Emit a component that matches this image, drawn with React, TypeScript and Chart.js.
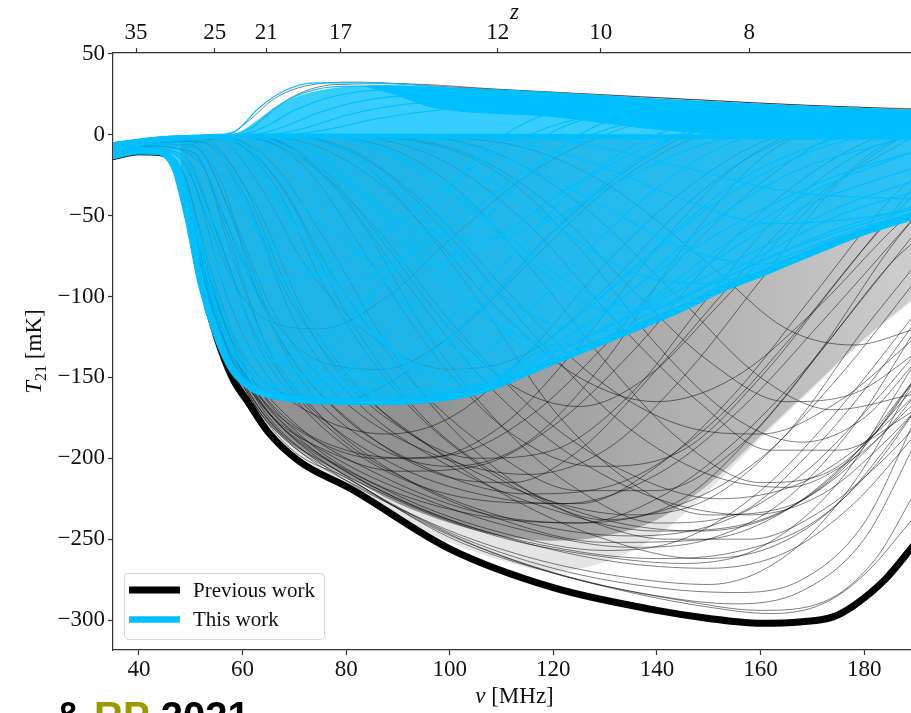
import React, { useEffect, useRef } from "react";
import { Chart, registerables } from "chart.js";

Chart.register(...registerables);

// ---------- axes ----------
const nuTicks = [40, 60, 80, 100, 120, 140, 160, 180];
const tTicks = [50, 0, -50, -100, -150, -200, -250, -300];
const zTicks = [35, 25, 21, 17, 12, 10, 8];
const NU_21CM = 1420.4; // MHz, rest frequency used to place the redshift ticks
const legendLabels = ["Previous work", "This work"];
const captionParts = ["& ", "RP", " 2021"];

// ---------- envelopes (thick lines) ----------
const previousWorkEnvelope = [[35,-13.5],[40,-10.5],[44,-11],[47,-20],[49.5,-50],[52,-90],[55,-125],[58,-150],[61,-165],[65,-184],[71,-202],[81,-219],[100,-256],[120,-280],[140,-294],[150,-299],[160,-302],[168,-301],[174,-298],[178,-291],[184,-275],[190,-252]];
const thisWorkEnvelope = [[35,-13],[40,-10],[44,-10.5],[47,-21],[49.5,-52],[52,-92],[55,-124],[58,-145],[62,-157],[67,-162],[75,-164.5],[85,-165],[95,-164],[102,-161],[108,-156],[117,-144],[127,-131],[137,-118],[145,-107],[152,-96],[160,-86],[172,-70],[180,-60],[190,-50]];

// ---------- density boundaries of the two bundles ----------
const previousWorkDenseTop = [[48,-2],[55,-0.6],[62,0],[100,0],[150,-0.5],[190,-1]];
const previousWorkDenseCore = [[48,-24],[52,-88],[56,-135],[59,-155],[62,-167],[66,-182],[72,-197],[80,-211],[90,-228],[100,-240],[110,-248],[120,-251],[130,-248],[140,-238],[150,-216],[160,-186],[170,-156],[180,-126],[190,-100]];
const previousWorkDenseHalo = [[48,-24],[52,-88],[56,-135],[60,-160],[65,-182],[72,-201],[80,-216],[90,-236],[100,-252],[110,-263],[120,-270],[130,-264],[140,-248],[150,-220],[160,-188],[170,-157],[180,-127],[190,-101]];
const thisWorkUpperEdge = [[35,-4.5],[40,-3],[45,-1.8],[50,-1],[56,-0.3],[59,1],[62,7],[66,16],[71,24],[78,29],[88,30.5],[100,29],[120,26],[140,22],[160,19],[190,15]];
const thisWorkSolidBand = [[84,29.5],[90,24],[95,18],[100,15],[120,11],[140,3],[158,-1],[175,-2.5],[190,-3]];
const thisWorkNullCurve = [[35,-6.5],[40,-4.5],[45,-2.5],[50,-1.5],[58,-0.8],[75,-0.8],[110,-1],[150,-1.3],[190,-1.6]];

// ---------- individual model curves: previous work ----------
const previousWorkCurves = [
  [[35,-13],[40,-10],[44,-11],[47,-21],[50,-52],[54,-100],[58,-140],[63,-170],[70,-196],[80,-212],[100,-249],[120,-271],[140,-285],[155,-290],[168,-282],[180,-250],[190,-190]],
  [[35,-13],[40,-10],[45,-13],[49,-38],[53,-88],[58,-134],[64,-170],[75,-203],[95,-238],[115,-261],[135,-274],[150,-278],[165,-260],[178,-215],[190,-150]],
  [[35,-12],[40,-9.5],[46,-15],[51,-60],[56,-112],[62,-152],[72,-188],[90,-223],[110,-246],[130,-257],[145,-250],[160,-220],[175,-170],[190,-110]],
  [[35,-12],[41,-9],[47,-18],[53,-80],[60,-138],[70,-178],[85,-208],[105,-233],[125,-240],[140,-225],[155,-190],[170,-140],[185,-80],[190,-65]],
  [[35,-11],[41,-8],[48,-12],[55,-60],[62,-120],[72,-165],[90,-205],[110,-225],[125,-228],[140,-205],[155,-160],[170,-100],[185,-40],[190,-25]],
  [[35,-11],[42,-7],[50,-6],[58,-50],[66,-110],[78,-160],[95,-195],[115,-210],[130,-195],[145,-150],[160,-90],[175,-30],[190,5]],
  [[35,-10],[42,-6],[50,-4],[56,-30],[62,-90],[70,-145],[82,-185],[100,-205],[115,-190],[130,-140],[145,-70],[160,-15],[175,8],[190,12]],
  [[35,-12],[41,-9],[47,-16],[52,-70],[58,-128],[66,-168],[80,-195],[95,-200],[110,-180],[125,-130],[140,-70],[155,-20],[170,5],[190,12]],
  [[35,-10],[42,-5],[52,-2],[60,-30],[68,-90],[78,-145],[90,-180],[105,-200],[120,-195],[135,-160],[150,-100],[165,-45],[180,-10],[190,0]],
  [[35,-9],[42,-4],[55,-1],[65,-15],[75,-60],[88,-130],[100,-180],[115,-220],[130,-238],[145,-225],[160,-180],[175,-120],[190,-60]],
  [[35,-8],[43,-3],[58,-0.5],[70,-10],[82,-50],[95,-120],[110,-180],[125,-220],[140,-240],[155,-235],[170,-195],[182,-150],[190,-115]],
  [[35,-8],[43,-3],[60,-0.5],[75,-8],[90,-40],[105,-100],[120,-170],[135,-215],[150,-235],[165,-230],[178,-200],[190,-150]],
  [[35,-6],[44,-2],[65,0],[85,-5],[100,-30],[115,-80],[130,-140],[145,-190],[160,-215],[172,-210],[182,-185],[190,-150]],
  [[35,-6],[45,-1.5],[70,0],[95,-5],[110,-25],[125,-70],[140,-130],[155,-175],[168,-190],[180,-175],[190,-140]],
  [[35,-6],[45,-1.5],[57,0],[61,8],[66,22],[72,30],[82,32.5],[100,29.5],[130,24.5],[160,19.5],[190,15.5]],
  [[35,-12],[41,-9],[48,-20],[54,-85],[60,-135],[68,-160],[78,-165],[90,-150],[105,-110],[120,-60],[135,-20],[150,5],[170,15],[190,14]],
  [[35,-12],[42,-8],[50,-25],[57,-100],[65,-150],[75,-175],[88,-185],[100,-175],[115,-135],[130,-80],[145,-35],[160,-5],[180,10],[190,12]],
  [[35,-11],[42,-7],[52,-18],[60,-80],[70,-140],[82,-180],[98,-210],[112,-215],[125,-195],[140,-145],[155,-90],[170,-40],[190,0]],
  [[35,-13],[40,-10],[45,-13],[50,-52],[56,-118],[63,-163],[73,-196],[90,-226],[110,-249],[130,-261],[145,-265],[160,-255],[175,-215],[190,-140]],
  [[35,-13],[40,-10],[45,-12.5],[50,-55],[56,-124],[62,-163],[70,-193],[85,-222],[105,-254],[125,-275],[145,-288],[160,-294],[172,-289],[182,-263],[190,-220]],
  [[35,-10],[42,-6],[52,-4],[62,-40],[72,-110],[85,-165],[100,-200],[118,-225],[135,-235],[150,-225],[165,-185],[180,-120],[190,-80]],
  [[35,-9],[42,-5],[55,-2],[66,-25],[78,-90],[92,-150],[108,-195],[125,-220],[140,-220],[155,-195],[170,-140],[185,-70],[190,-50]],
  [[35,-7],[44,-2.5],[62,-0.5],[75,-20],[88,-70],[100,-120],[112,-155],[125,-168],[138,-150],[152,-105],[168,-50],[182,-10],[190,2]],
  [[35,-7],[44,-2],[66,-0.5],[82,-15],[96,-60],[110,-110],[125,-150],[140,-165],[155,-150],[170,-110],[185,-60],[190,-45]],
  [[35,-8],[43,-3],[60,-1],[72,-20],[85,-80],[98,-140],[112,-185],[128,-205],[145,-195],[160,-150],[175,-90],[190,-30]],
  [[35,-12],[41,-9],[48,-14],[53,-50],[58,-90],[65,-115],[75,-120],[88,-100],[100,-65],[115,-25],[130,0],[150,15],[190,14]],
  [[35,-11],[41,-8],[50,-10],[57,-55],[65,-110],[75,-140],[87,-145],[100,-125],[115,-80],[130,-35],[145,-5],[165,12],[190,13]],
  [[35,-9],[42,-5],[55,-3],[63,-30],[72,-80],[85,-125],[100,-145],[115,-135],[130,-95],[145,-45],[160,-10],[178,8],[190,10]],
  [[35,-13],[40,-10],[45,-13],[50,-55],[55,-112],[60,-152],[67,-183],[78,-207],[95,-240],[115,-266],[135,-283],[150,-292],[162,-296],[172,-290],[180,-272],[190,-235]],
  [[35,-12],[41,-9],[47,-17],[53,-85],[59,-138],[66,-172],[78,-200],[95,-225],[115,-245],[135,-255],[150,-250],[165,-225],[178,-180],[190,-120]],
  [[35,-10],[42,-6],[52,-5],[60,-35],[68,-95],[80,-150],[95,-190],[112,-225],[130,-250],[148,-262],[162,-255],[175,-228],[190,-170]],
  [[35,-8],[43,-3],[58,-1],[70,-12],[85,-55],[100,-115],[118,-175],[135,-210],[152,-225],[168,-215],[182,-185],[190,-160]],
  [[35,-7],[44,-2],[64,-0.5],[80,-8],[96,-45],[112,-100],[128,-150],[145,-180],[160,-185],[175,-165],[190,-125]],
  [[35,-6],[45,-1.5],[75,0],[100,-8],[118,-40],[135,-95],[150,-140],[165,-165],[178,-160],[190,-135]],
  [[35,-6],[45,-1.5],[80,0],[110,-5],[130,-30],[150,-80],[165,-120],[178,-130],[190,-120]],
  [[35,-6],[45,-1.5],[60,0],[64,10],[70,24],[78,31],[90,31.5],[110,28],[140,23],[170,18],[190,16]],
  [[35,-12],[41,-9],[47,-16],[52,-75],[58,-133],[66,-175],[80,-208],[100,-238],[120,-255],[140,-262],[155,-258],[170,-240],[182,-205],[190,-170]],
  [[35,-11],[42,-7],[50,-8],[57,-60],[64,-125],[74,-170],[90,-210],[110,-238],[130,-252],[150,-250],[165,-232],[178,-198],[190,-155]],
  [[35,-10],[42,-6],[52,-4],[61,-45],[70,-115],[82,-165],[100,-205],[120,-232],[140,-245],[158,-240],[172,-218],[185,-180],[190,-160]],
  [[35,-9],[43,-4],[56,-1.5],[66,-30],[76,-95],[90,-160],[106,-205],[124,-235],[142,-250],[158,-250],[172,-232],[184,-200],[190,-180]],
  [[35,-13],[40,-10],[45,-12.5],[50,-54],[55,-116],[61,-160],[68,-188],[80,-212],[100,-246],[120,-268],[140,-280],[155,-283],[168,-275],[180,-240],[190,-175]],
  [[35,-12],[41,-9],[47,-17],[52,-78],[57,-128],[64,-168],[75,-198],[92,-228],[112,-250],[132,-264],[150,-268],[165,-258],[178,-228],[190,-185]],
  [[35,-11],[42,-7],[51,-12],[58,-75],[66,-140],[78,-185],[95,-218],[115,-240],[135,-248],[152,-240],[168,-210],[182,-165],[190,-135]],
  [[35,-9],[43,-4],[57,-1],[68,-35],[80,-110],[95,-175],[112,-215],[130,-238],[148,-245],[163,-235],[176,-205],[190,-150]],
  [[35,-8],[43,-3],[62,-0.5],[76,-25],[90,-85],[106,-150],[122,-195],[140,-225],[158,-235],[172,-222],[184,-190],[190,-170]],
  [[35,-7],[44,-2],[68,-0.5],[86,-20],[102,-70],[118,-130],[134,-180],[150,-210],[165,-218],[178,-200],[190,-165]],
  [[35,-6],[45,-1.5],[78,0],[98,-15],[115,-55],[132,-115],[148,-165],[162,-195],[175,-195],[190,-170]],
  [[35,-6],[45,-1.5],[88,0],[108,-10],[126,-45],[144,-100],[160,-150],[174,-170],[190,-160]],
  [[35,-12],[41,-9],[48,-20],[54,-92],[61,-150],[70,-185],[85,-215],[105,-235],[125,-240],[145,-228],[160,-200],[175,-150],[190,-90]],
  [[35,-11],[41,-8],[49,-14],[56,-70],[63,-130],[72,-170],[86,-205],[104,-225],[122,-228],[140,-210],[156,-170],[172,-115],[190,-50]],
  [[35,-10],[42,-6],[51,-8],[59,-60],[67,-125],[78,-170],[95,-205],[115,-222],[133,-215],[150,-180],[166,-125],[180,-70],[190,-35]],
  [[35,-12],[41,-9],[47,-15],[52,-72],[57,-125],[63,-160],[72,-185],[86,-200],[100,-198],[115,-175],[130,-130],[145,-75],[160,-30],[175,0],[190,10]],
  [[35,-13],[40,-10],[45,-13],[50,-55],[55,-115],[60,-150],[66,-175],[76,-195],[90,-208],[105,-205],[120,-180],[135,-135],[150,-80],[165,-35],[180,-5],[190,5]],
];

// ---------- individual model curves: this work ----------
const thisWorkCurves = [
  [[35,-6],[45,-1.5],[56,0],[59,3],[63,16],[68,27],[74,32],[85,32],[100,29],[120,26],[140,22],[165,18],[190,15]],
  [[35,-6],[45,-1.5],[58,0],[62,5],[66,16],[72,26],[80,30],[95,29],[120,25],[150,20],[190,14]],
  [[35,-5],[45,-1.5],[60,0],[65,6],[70,15],[78,24],[90,28],[110,26],[140,21],[190,14]],
  [[35,-5],[46,-1],[62,0],[68,5],[75,14],[85,22],[100,25],[125,23],[160,18],[190,13]],
  [[35,-5],[46,-1],[65,0],[72,4],[80,12],[92,19],[110,22],[140,19],[190,13]],
  [[35,-5],[46,-1],[68,0],[76,3],[86,10],[100,16],[120,19],[150,17],[190,12]],
  [[35,-12],[41,-9],[46,-13],[49,-35],[52,-78],[56,-120],[61,-148],[67,-155],[75,-140],[85,-100],[95,-55],[105,-15],[115,8],[130,18],[160,17],[190,14]],
  [[35,-12],[41,-9],[47,-16],[51,-60],[55,-108],[60,-140],[68,-155],[78,-150],[90,-115],[102,-70],[115,-25],[128,5],[145,15],[190,13]],
  [[35,-11],[41,-8],[48,-14],[53,-60],[58,-105],[65,-135],[74,-150],[85,-148],[98,-120],[112,-75],[125,-30],[140,0],[160,12],[190,12]],
  [[35,-10],[42,-6],[50,-8],[56,-45],[62,-95],[70,-135],[80,-155],[92,-160],[105,-140],[118,-100],[132,-55],[148,-15],[165,5],[190,10]],
  [[35,-10],[42,-5],[52,-3],[58,-25],[65,-75],[74,-120],[85,-150],[98,-158],[110,-148],[122,-120],[138,-75],[155,-30],[172,-5],[190,6]],
  [[35,-9],[43,-4],[55,-1],[62,-15],[70,-55],[80,-105],[92,-140],[106,-155],[118,-138],[132,-105],[148,-60],[165,-25],[190,0]],
  [[35,-8],[43,-3],[58,-0.5],[66,-10],[75,-40],[86,-85],[98,-125],[110,-145],[122,-132],[136,-108],[152,-70],[170,-35],[190,-10]],
  [[35,-7],[44,-2],[62,-0.3],[72,-8],[82,-35],[95,-80],[108,-115],[120,-130],[134,-113],[150,-80],[168,-45],[190,-20]],
  [[35,-7],[44,-2],[66,0],[78,-8],[90,-35],[102,-75],[115,-110],[128,-122],[142,-105],[158,-78],[175,-50],[190,-35]],
  [[35,-6],[45,-1.5],[70,0],[84,-6],[98,-30],[112,-65],[125,-95],[138,-108],[152,-90],[168,-68],[190,-45]],
  [[35,-6],[45,-1.5],[75,0],[92,-5],[106,-25],[120,-55],[135,-85],[150,-92],[165,-75],[180,-57],[190,-48]],
  [[35,-6],[45,-1.5],[82,0],[100,-4],[115,-20],[130,-45],[145,-70],[160,-80],[175,-64],[190,-47]],
  [[35,-6],[45,-1.5],[90,0],[110,-3],[128,-18],[145,-40],[162,-55],[178,-52],[190,-46]],
  [[35,-6],[45,-1.5],[100,0],[125,-5],[145,-20],[165,-35],[190,-40]],
  [[35,-11],[41,-8],[48,-12],[53,-45],[58,-75],[65,-90],[75,-85],[88,-60],[100,-30],[112,-5],[125,10],[150,16],[190,13]],
  [[35,-10],[42,-6],[50,-5],[56,-25],[62,-55],[70,-80],[80,-90],[92,-75],[105,-45],[118,-15],[132,5],[155,14],[190,12]],
  [[35,-9],[43,-3],[55,-1],[64,-15],[72,-45],[82,-70],[95,-80],[108,-65],[122,-35],[138,-8],[155,6],[190,9]],
  [[35,-8],[44,-2],[60,-0.5],[70,-10],[80,-30],[92,-55],[105,-65],[118,-55],[132,-30],[150,-5],[170,5],[190,7]],
  [[35,-12],[41,-9],[46,-12],[50,-45],[54,-95],[58,-133],[63,-153],[70,-159],[80,-158],[92,-145],[105,-110],[118,-65],[132,-25],[148,5],[170,14],[190,13]],
  [[35,-11],[41,-8],[48,-12],[54,-55],[60,-105],[68,-140],[80,-158],[95,-160],[110,-150],[125,-120],[140,-85],[158,-50],[175,-25],[190,-10]],
  [[35,-9],[43,-4],[54,-2],[62,-20],[72,-65],[84,-115],[96,-150],[108,-150],[120,-125],[135,-85],[150,-45],[170,-10],[190,5]],
  [[35,-7],[44,-2],[64,-0.5],[76,-15],[90,-55],[104,-100],[118,-135],[130,-120],[145,-95],[160,-70],[175,-45],[190,-28]],
  [[35,-6],[45,-1.5],[72,0],[88,-10],[102,-40],[118,-85],[132,-110],[145,-100],[160,-78],[175,-58],[190,-44]],
  [[35,-12],[41,-9],[47,-15],[51,-55],[55,-100],[60,-130],[66,-140],[75,-128],[86,-95],[98,-55],[110,-20],[122,5],[140,16],[190,14]],
];

const SERIF = "'Liberation Serif', 'Times New Roman', serif";
const BLUE = "#00BFFF";

const pts = (a: number[][]) => a.map(([x, y]) => ({ x, y }));
const fmtNum = (v: number) => (v < 0 ? "\u2212" + Math.abs(v) : String(v));

const textPlugin = {
  id: "customText",
  afterDraw(chart: any) {
    const ctx: CanvasRenderingContext2D = chart.ctx;
    const a = chart.chartArea;
    const cx = (a.left + a.right) / 2;
    ctx.save();
    ctx.fillStyle = "#111";
    ctx.textBaseline = "alphabetic";
    ctx.textAlign = "left";

    // y-axis title  T_21 [mK]
    ctx.save();
    ctx.translate(41, (a.top + a.bottom) / 2);
    ctx.rotate(-Math.PI / 2);
    const fT = `italic 23px ${SERIF}`, fS = `16px ${SERIF}`, fR = `23px ${SERIF}`;
    ctx.font = fT; const wT = ctx.measureText("T").width;
    ctx.font = fS; const wS = ctx.measureText("21").width;
    ctx.font = fR; const wR = ctx.measureText(" [mK]").width;
    let x0 = -(wT + wS + wR) / 2;
    ctx.font = fT; ctx.fillText("T", x0, 0); x0 += wT;
    ctx.font = fS; ctx.fillText("21", x0, 5); x0 += wS;
    ctx.font = fR; ctx.fillText(" [mK]", x0, 0);
    ctx.restore();

    // x-axis title  nu [MHz]
    ctx.font = `italic 23px ${SERIF}`; const wNu = ctx.measureText("\u03BD").width;
    ctx.font = `23px ${SERIF}`; const wM = ctx.measureText(" [MHz]").width;
    let xs = cx - (wNu + wM) / 2;
    ctx.font = `italic 23px ${SERIF}`; ctx.fillText("\u03BD", xs, 703); xs += wNu;
    ctx.font = `23px ${SERIF}`; ctx.fillText(" [MHz]", xs, 703);

    // top axis title  z
    ctx.font = `italic 23px ${SERIF}`;
    ctx.textAlign = "center";
    ctx.fillText("z", cx, 19);
    ctx.textAlign = "left";

    // legend
    const bx = 124.5, by = 573.5, bw = 200, bh = 66, r = 4;
    ctx.beginPath();
    ctx.moveTo(bx + r, by);
    ctx.lineTo(bx + bw - r, by); ctx.quadraticCurveTo(bx + bw, by, bx + bw, by + r);
    ctx.lineTo(bx + bw, by + bh - r); ctx.quadraticCurveTo(bx + bw, by + bh, bx + bw - r, by + bh);
    ctx.lineTo(bx + r, by + bh); ctx.quadraticCurveTo(bx, by + bh, bx, by + bh - r);
    ctx.lineTo(bx, by + r); ctx.quadraticCurveTo(bx, by, bx + r, by);
    ctx.closePath();
    ctx.fillStyle = "rgba(255,255,255,0.85)";
    ctx.fill();
    ctx.strokeStyle = "#d6d6d6"; ctx.lineWidth = 1; ctx.stroke();
    const entries = [
      { label: legendLabels[0], color: "#000", width: 7, y: 590 },
      { label: legendLabels[1], color: BLUE, width: 6.5, y: 619.5 },
    ];
    entries.forEach((e) => {
      ctx.beginPath();
      ctx.moveTo(129, e.y); ctx.lineTo(180, e.y);
      ctx.strokeStyle = e.color; ctx.lineWidth = e.width; ctx.lineCap = "butt";
      ctx.stroke();
      ctx.fillStyle = "#111";
      ctx.font = `21px ${SERIF}`;
      ctx.textBaseline = "middle";
      ctx.fillText(e.label, 193, e.y + 1);
    });

    // partially visible caption below the figure
    ctx.textBaseline = "alphabetic";
    ctx.font = `bold 40px 'Liberation Sans', Arial, sans-serif`;
    let cxp = 54;
    const cols = ["#000", "#999900", "#000"];
    captionParts.forEach((p, i) => {
      ctx.fillStyle = cols[i];
      ctx.fillText(p, cxp, 730);
      cxp += ctx.measureText(p).width;
    });
    ctx.restore();
  },
};

export default function App() {
  const ref = useRef<HTMLCanvasElement>(null);

  useEffect(() => {
    const canvas = ref.current;
    if (!canvas) return;
    const ds: any[] = [];
    const add = (d: any) => { ds.push(d); return ds.length - 1; };
    const base = {
      pointRadius: 0, pointHoverRadius: 0, pointHitRadius: 0,
      cubicInterpolationMode: "monotone", fill: false,
      borderJoinStyle: "round", borderCapStyle: "round",
    };
    const hidden = { borderWidth: 0, borderColor: "rgba(0,0,0,0)" };

    // horizontal fade of the dense previous-work bundle
    const coreShade = (c: any) => {
      const ch = c.chart;
      if (!ch.chartArea || !ch.scales.x) return "rgba(0,0,0,0.25)";
      const xs = ch.scales.x;
      const g = ch.ctx.createLinearGradient(xs.getPixelForValue(95), 0, xs.getPixelForValue(190), 0);
      g.addColorStop(0, "rgba(0,0,0,0.36)");
      g.addColorStop(0.5, "rgba(0,0,0,0.24)");
      g.addColorStop(1, "rgba(0,0,0,0.10)");
      return g;
    };

    // density under-layers of the previous-work bundle
    const iDenseTop = add({ ...base, ...hidden, data: pts(previousWorkDenseTop), order: 100 });
    add({ ...base, ...hidden, data: pts(previousWorkDenseHalo), fill: iDenseTop, backgroundColor: "rgba(0,0,0,0.10)", order: 99 });
    add({ ...base, ...hidden, data: pts(previousWorkDenseCore), fill: iDenseTop, backgroundColor: coreShade, order: 98 });
    // previous work curves
    previousWorkCurves.forEach((c) =>
      add({ ...base, data: pts(c), borderWidth: 1, borderColor: "rgba(0,0,0,0.5)", order: 90 })
    );
    add({ ...base, label: legendLabels[0], data: pts(previousWorkEnvelope), borderWidth: 7, borderColor: "#000", order: 80 });

    // this work
    const iBlueEnv = add({ ...base, label: legendLabels[1], data: pts(thisWorkEnvelope), borderWidth: 7, borderColor: BLUE, order: 50 });
    const iUpper = add({ ...base, ...hidden, data: pts(thisWorkUpperEdge), fill: iBlueEnv, backgroundColor: "rgba(0,191,255,0.78)", order: 70 });
    add({ ...base, ...hidden, data: pts(thisWorkSolidBand), fill: iUpper, backgroundColor: BLUE, order: 69 });
    add({ ...base, data: pts(thisWorkNullCurve), borderWidth: 5, borderColor: BLUE, order: 65 });
    thisWorkCurves.forEach((c) =>
      add({ ...base, data: pts(c), borderWidth: 1.3, borderColor: "rgba(0,191,255,0.95)", order: 60 })
    );

    const tickFont = { family: SERIF, size: 23 };
    const axisCommon = {
      type: "linear",
      grid: { display: true, drawOnChartArea: false, drawTicks: true, tickLength: 5, tickWidth: 1.2, tickColor: "#333" },
      border: { display: true, color: "#333", width: 1.2 },
    };

    const chart = new Chart(canvas, {
      type: "line",
      data: { datasets: ds },
      options: {
        animation: false,
        responsive: false,
        devicePixelRatio: 1,
        events: [],
        layout: { padding: { left: 0, right: 14, top: 0, bottom: 0 } },
        plugins: {
          legend: { display: false },
          tooltip: { enabled: false },
          colors: { enabled: false },
        },
        scales: {
          x: {
            ...axisCommon,
            position: "bottom",
            min: 35, max: 190,
            afterBuildTicks: (s: any) => { s.ticks = nuTicks.map((v) => ({ value: v })); },
            afterFit: (s: any) => { s.height = 63; },
            ticks: { font: tickFont, color: "#111", padding: 1, maxRotation: 0, autoSkip: false, callback: (v: any) => fmtNum(v) },
          },
          xTop: {
            ...axisCommon,
            position: "top",
            min: 35, max: 190,
            afterBuildTicks: (s: any) => { s.ticks = zTicks.map((z) => ({ value: NU_21CM / (1 + z) })); },
            afterFit: (s: any) => { s.height = 53; },
            ticks: { font: tickFont, color: "#111", padding: 1, maxRotation: 0, autoSkip: false, callback: (_v: any, i: number) => String(zTicks[i]) },
          },
          y: {
            ...axisCommon,
            position: "left",
            min: -318.5, max: 50.5,
            afterBuildTicks: (s: any) => { s.ticks = tTicks.map((v) => ({ value: v })); },
            afterFit: (s: any) => { s.width = 113; },
            ticks: { font: tickFont, color: "#111", padding: 3, autoSkip: false, callback: (v: any) => fmtNum(v) },
          },
        },
      } as any,
      plugins: [textPlugin],
    });
    return () => chart.destroy();
  }, []);

  return (
    <div style={{ position: "fixed", left: 0, top: 0, width: 911, height: 713, overflow: "hidden", background: "#fff" }}>
      <canvas ref={ref} width={930} height={713} style={{ display: "block", width: 930, height: 713 }} />
    </div>
  );
}
